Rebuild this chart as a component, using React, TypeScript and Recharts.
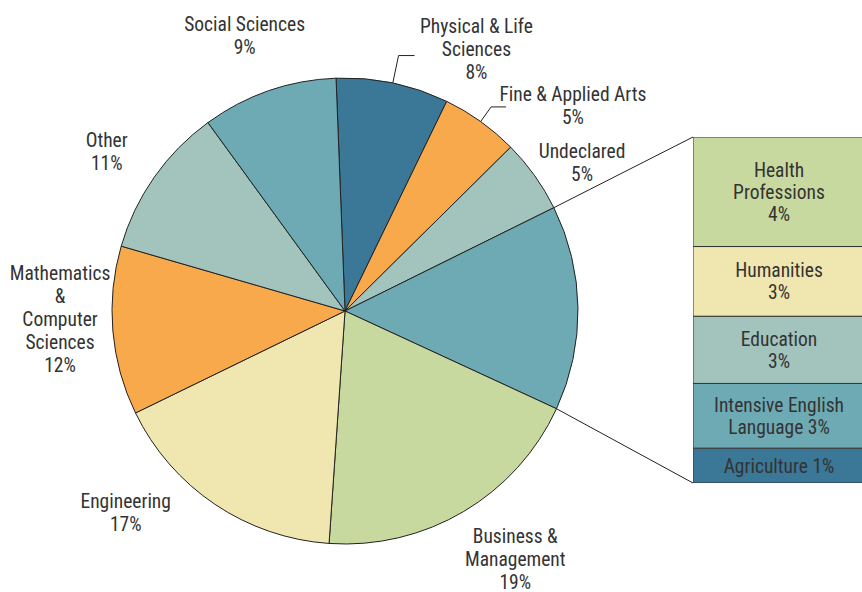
import React from "react";
import { PieChart, Pie, Cell, BarChart, Bar, XAxis, YAxis } from "recharts";

// pie slices, clockwise from the top
const sliceNames = [
  "Physical & Life\nSciences",
  "Fine & Applied Arts",
  "Undeclared",
  "",
  "Business &\nManagement",
  "Engineering",
  "Mathematics\n&\nComputer\nSciences",
  "Other",
  "Social Sciences",
];
const sliceValues = [7.8, 5.4, 5.1, 14.2, 19.2, 16.7, 11.7, 10.5, 9.4];
const sliceColors = ["#3b7797", "#f7a94c", "#a2c4bc", "#6eaab3", "#c8d99f", "#f0e6b0", "#f7a94c", "#a2c4bc", "#6eaab3"];

// breakdown of the grey-teal slice, bottom to top
const barNames = ["Agriculture", "Intensive English\nLanguage", "Education", "Humanities", "Health\nProfessions"];
const barValues = [1.4, 2.6, 2.7, 2.8, 4.4];
const barPctInline = [true, true, false, false, false];
const barColors = ["#3b7797", "#6eaab3", "#a2c4bc", "#f0e6b0", "#c8d99f"];

const FONT = "'Liberation Sans Narrow', 'Roboto Condensed', 'DejaVu Sans Condensed', Roboto, sans-serif";
const TEXT = "#333";
const RAD = Math.PI / 180;

const BAR_X = 693;
const BAR_Y = 137;
const BAR_W = 172;
const BAR_H = 346;

// small label shifts away from the plain mid-angle spot
const labelNudge: Record<number, [number, number]> = {
  0: [73, 17],
  1: [62, 26],
  2: [5, 17],
  4: [25, 3],
  5: [-60, -35],
  6: [-1, -16],
  7: [-5, 4],
  8: [-7, -6],
};
const leaderSlices: Record<number, [number, number]> = { 0: [28, 16], 1: [18, 15] };

const pieData = sliceNames.map((name, i) => ({ name, value: sliceValues[i], color: sliceColors[i] }));

const barRow: Record<string, any> = { cat: "group" };
barValues.forEach((v, i) => (barRow["b" + i] = v));
const barData = [barRow];
const barTotal = barValues.reduce((a, b) => a + b, 0);

function polar(cx: number, cy: number, r: number, a: number) {
  return { x: cx + r * Math.cos(a * RAD), y: cy - r * Math.sin(a * RAD) };
}

function Lines({ x, y, lines, lh }: { x: number; y: number; lines: string[]; lh: number }) {
  const y0 = y - ((lines.length - 1) * lh) / 2 + 7;
  return (
    <text x={x} y={y0} textAnchor="middle" fill={TEXT} fontSize={19.5} fontFamily={FONT}>
      {lines.map((l, i) => (
        <tspan key={i} x={x} y={y0 + i * lh}>
          {l}
        </tspan>
      ))}
    </text>
  );
}

function renderPieLabel(props: any) {
  const { cx, cy, outerRadius, midAngle, startAngle, endAngle, index, value } = props;
  if (index === 3) {
    const a = polar(cx, cy, outerRadius, startAngle);
    const b = polar(cx, cy, outerRadius, endAngle);
    return (
      <g>
        <line x1={a.x} y1={a.y} x2={BAR_X} y2={BAR_Y} stroke="#222" strokeWidth={1} />
        <line x1={b.x} y1={b.y} x2={BAR_X} y2={BAR_Y + BAR_H} stroke="#222" strokeWidth={1} />
      </g>
    );
  }
  const p = polar(cx, cy, outerRadius + 52, midAngle);
  const [dx, dy] = labelNudge[index] || [0, 0];
  const lines = [...sliceNames[index].split("\n"), Math.round(value) + "%"];
  let leader = null;
  if (leaderSlices[index]) {
    const [ext, run] = leaderSlices[index];
    const e = polar(cx, cy, outerRadius, midAngle);
    const k = polar(cx, cy, outerRadius + ext, midAngle);
    leader = (
      <polyline
        points={`${e.x},${e.y} ${k.x},${k.y} ${k.x + run},${k.y}`}
        fill="none"
        stroke="#222"
        strokeWidth={1}
      />
    );
  }
  return (
    <g>
      {leader}
      <Lines x={p.x + dx} y={p.y + dy} lines={lines} lh={23} />
    </g>
  );
}

function barLabel(i: number) {
  return (props: any) => {
    const { x, y, width, height } = props;
    const lines = barNames[i].split("\n");
    const pct = Math.round(barValues[i]) + "%";
    if (barPctInline[i]) lines[lines.length - 1] += " " + pct;
    else lines.push(pct);
    return <Lines x={x + width / 2} y={y + height / 2} lines={lines} lh={22} />;
  };
}

export default function App() {
  return (
    <div
      style={{
        position: "absolute",
        left: 0,
        top: 0,
        width: 862,
        height: 592,
        overflow: "hidden",
        background: "#fff",
        fontFamily: FONT,
      }}
    >
      <PieChart width={862} height={592} margin={{ top: 0, right: 0, bottom: 0, left: 0 }}>
        <Pie
          data={pieData}
          dataKey="value"
          cx={345}
          cy={311}
          outerRadius={233}
          startAngle={92.2}
          endAngle={-267.8}
          stroke="#222"
          strokeWidth={1}
          labelLine={false}
          label={renderPieLabel}
          isAnimationActive={false}
        >
          {pieData.map((d, i) => (
            <Cell key={i} fill={d.color} />
          ))}
        </Pie>
      </PieChart>
      <div style={{ position: "absolute", left: BAR_X, top: BAR_Y }}>
        <BarChart
          width={BAR_W}
          height={BAR_H}
          data={barData}
          margin={{ top: 0, right: 0, bottom: 0, left: 0 }}
          barCategoryGap={0}
        >
          <XAxis dataKey="cat" hide />
          <YAxis hide domain={[0, barTotal]} />
          {barValues.map((_, i) => (
            <Bar
              key={i}
              dataKey={"b" + i}
              stackId="a"
              fill={barColors[i]}
              stroke="#333"
              strokeWidth={1}
              label={barLabel(i)}
              isAnimationActive={false}
            />
          ))}
        </BarChart>
      </div>
    </div>
  );
}
